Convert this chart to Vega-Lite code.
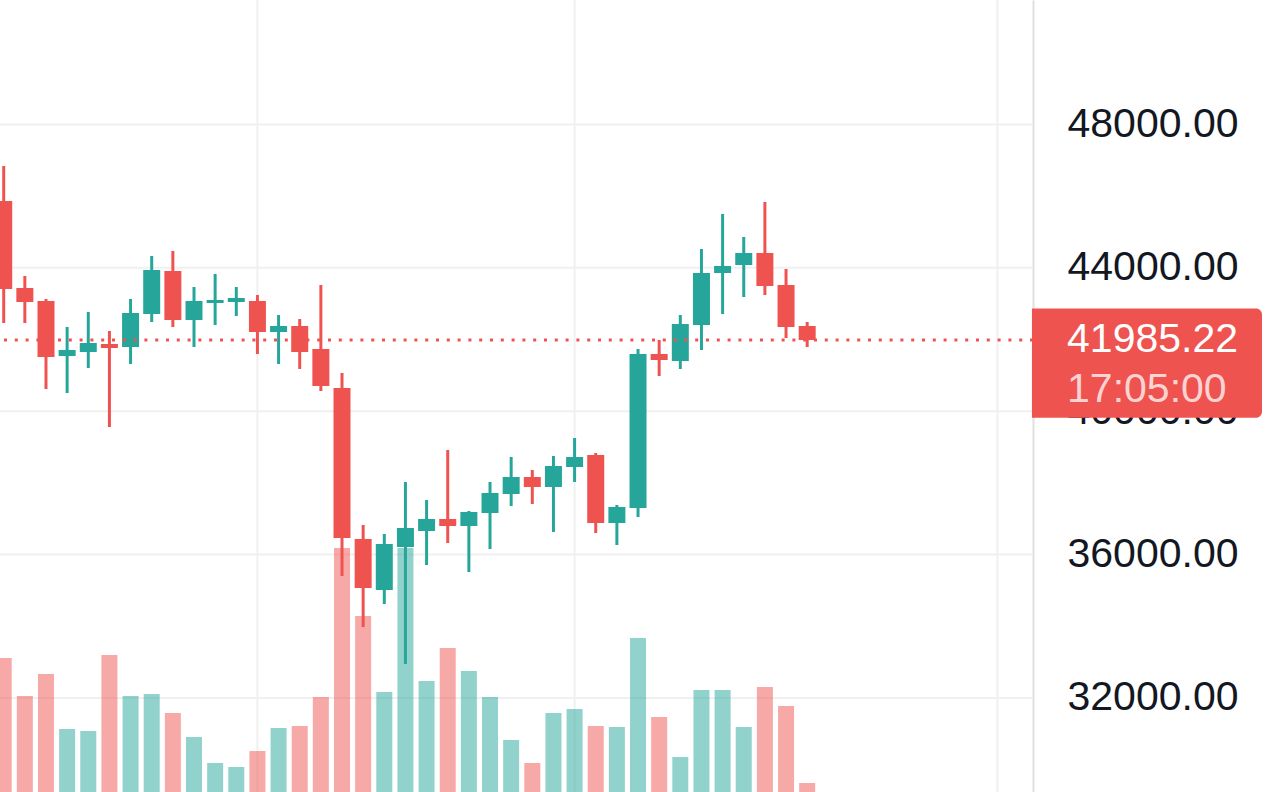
{
  "$schema": "https://vega.github.io/schema/vega-lite/v6.json",
  "width": 1033,
  "height": 792,
  "autosize": {"type": "none"},
  "padding": {"left": 0, "top": 0, "right": 247, "bottom": 0},
  "background": "white",
  "config": {"view": {"stroke": null}, "font": "Liberation Sans"},
  "datasets": {
    "candles": [
      {"i": 0, "o": 45865, "h": 46842, "l": 42462, "c": 43410, "v": 134, "d": "down"},
      {"i": 1, "o": 43438, "h": 43773, "l": 42462, "c": 43048, "v": 96, "d": "down"},
      {"i": 2, "o": 43075, "h": 43131, "l": 40620, "c": 41513, "v": 118, "d": "down"},
      {"i": 3, "o": 41541, "h": 42350, "l": 40509, "c": 41708, "v": 63, "d": "up"},
      {"i": 4, "o": 41653, "h": 42769, "l": 41206, "c": 41904, "v": 61, "d": "up"},
      {"i": 5, "o": 41876, "h": 42238, "l": 39560, "c": 41764, "v": 137, "d": "down"},
      {"i": 6, "o": 41792, "h": 43131, "l": 41318, "c": 42741, "v": 96, "d": "up"},
      {"i": 7, "o": 42713, "h": 44331, "l": 42490, "c": 43940, "v": 98, "d": "up"},
      {"i": 8, "o": 43912, "h": 44470, "l": 42350, "c": 42545, "v": 79, "d": "down"},
      {"i": 9, "o": 42545, "h": 43466, "l": 41792, "c": 43075, "v": 55, "d": "up"},
      {"i": 10, "o": 43020, "h": 43829, "l": 42406, "c": 43103, "v": 29, "d": "up"},
      {"i": 11, "o": 43048, "h": 43466, "l": 42657, "c": 43159, "v": 25, "d": "up"},
      {"i": 12, "o": 43075, "h": 43243, "l": 41597, "c": 42210, "v": 41, "d": "down"},
      {"i": 13, "o": 42210, "h": 42685, "l": 41318, "c": 42378, "v": 64, "d": "up"},
      {"i": 14, "o": 42378, "h": 42573, "l": 41178, "c": 41653, "v": 66, "d": "down"},
      {"i": 15, "o": 41736, "h": 43522, "l": 40564, "c": 40704, "v": 95, "d": "down"},
      {"i": 16, "o": 40648, "h": 41067, "l": 35403, "c": 36463, "v": 244, "d": "down"},
      {"i": 17, "o": 36436, "h": 36826, "l": 33980, "c": 35068, "v": 176, "d": "down"},
      {"i": 18, "o": 35013, "h": 36575, "l": 34622, "c": 36296, "v": 100, "d": "up"},
      {"i": 19, "o": 36212, "h": 38026, "l": 32948, "c": 36742, "v": 244, "d": "up"},
      {"i": 20, "o": 36659, "h": 37523, "l": 35710, "c": 36993, "v": 111, "d": "up"},
      {"i": 21, "o": 36993, "h": 38918, "l": 36324, "c": 36798, "v": 144, "d": "down"},
      {"i": 22, "o": 36798, "h": 37217, "l": 35515, "c": 37189, "v": 121, "d": "up"},
      {"i": 23, "o": 37161, "h": 38026, "l": 36156, "c": 37719, "v": 95, "d": "up"},
      {"i": 24, "o": 37691, "h": 38723, "l": 37356, "c": 38165, "v": 52, "d": "up"},
      {"i": 25, "o": 38165, "h": 38360, "l": 37412, "c": 37886, "v": 29, "d": "down"},
      {"i": 26, "o": 37886, "h": 38751, "l": 36631, "c": 38472, "v": 79, "d": "up"},
      {"i": 27, "o": 38444, "h": 39253, "l": 38026, "c": 38723, "v": 83, "d": "up"},
      {"i": 28, "o": 38779, "h": 38835, "l": 36603, "c": 36882, "v": 66, "d": "down"},
      {"i": 29, "o": 36882, "h": 37384, "l": 36268, "c": 37328, "v": 65, "d": "up"},
      {"i": 30, "o": 37300, "h": 41736, "l": 37049, "c": 41597, "v": 154, "d": "up"},
      {"i": 31, "o": 41597, "h": 41987, "l": 40983, "c": 41429, "v": 75, "d": "down"},
      {"i": 32, "o": 41402, "h": 42685, "l": 41178, "c": 42434, "v": 35, "d": "up"},
      {"i": 33, "o": 42406, "h": 44526, "l": 41708, "c": 43857, "v": 102, "d": "up"},
      {"i": 34, "o": 43857, "h": 45503, "l": 42713, "c": 44052, "v": 102, "d": "up"},
      {"i": 35, "o": 44080, "h": 44861, "l": 43187, "c": 44415, "v": 65, "d": "up"},
      {"i": 36, "o": 44415, "h": 45837, "l": 43243, "c": 43494, "v": 105, "d": "down"},
      {"i": 37, "o": 43522, "h": 43968, "l": 42043, "c": 42350, "v": 86, "d": "down"},
      {"i": 38, "o": 42378, "h": 42490, "l": 41792, "c": 41985.22, "v": 9, "d": "down"}
    ],
    "vgrid": [{"gx": 12}, {"gx": 27}, {"gx": 47}],
    "hgrid": [{"p": 32000}, {"p": 36000}, {"p": 40000}, {"p": 44000}, {"p": 48000}],
    "last": [{"price": 41985.22}],
    "box": [{"x1": 48.63, "x2": 59.51, "top": 42863, "bottom": 39819}],
    "priceLabel": [{"lx": 50.29, "ly": 41985.22, "txt": "41985.22"}],
    "timeLabel": [{"lx": 50.29, "ly": 40606, "txt": "17:05:00"}]
  },
  "resolve": {"scale": {"y": "independent"}},
  "layer": [
    {
      "data": {"name": "hgrid"},
      "mark": {"type": "rule", "color": "#f0f0f0", "strokeWidth": 2},
      "encoding": {
        "y": {
          "field": "p", "type": "quantitative",
          "scale": {"domain": [29377, 51473], "nice": false, "zero": false},
          "axis": {
            "orient": "right", "values": [32000, 36000, 40000, 44000, 48000], "format": ".2f", "title": null,
            "ticks": false, "labelPadding": 34, "labelFontSize": 41, "labelColor": "#131722",
            "labelFont": "Liberation Sans", "labelAlign": "left", "labelBaseline": "middle",
            "grid": false,
            "domain": true, "domainColor": "#e0e0e0", "domainWidth": 2,
            "labelOverlap": false, "labelBound": false, "labelFlush": false
          }
        }
      }
    },
    {
      "data": {"name": "vgrid"},
      "mark": {"type": "rule", "color": "#f0f0f0", "strokeWidth": 2},
      "encoding": {
        "x": {"field": "gx", "type": "quantitative", "scale": {"domain": [-0.175, 48.68], "nice": false, "zero": false, "padding": 0}, "axis": null}
      }
    },
    {
      "data": {"name": "candles"},
      "mark": {"type": "bar", "size": 16, "opacity": 0.5},
      "encoding": {
        "x": {"field": "i", "type": "quantitative", "scale": {"domain": [-0.175, 48.68], "nice": false, "zero": false, "padding": 0}, "axis": null},
        "y": {"field": "v", "type": "quantitative", "scale": {"domain": [0, 792], "nice": false}, "axis": null},
        "color": {"field": "d", "type": "nominal", "scale": {"domain": ["up", "down"], "range": ["#26a69a", "#ef5350"]}, "legend": null}
      }
    },
    {
      "data": {"name": "candles"},
      "mark": {"type": "rule", "strokeWidth": 3},
      "encoding": {
        "x": {"field": "i", "type": "quantitative", "scale": {"domain": [-0.175, 48.68], "nice": false, "zero": false, "padding": 0}, "axis": null},
        "y": {"field": "l", "type": "quantitative", "scale": {"domain": [29377, 51473], "nice": false, "zero": false}, "axis": null},
        "y2": {"field": "h"},
        "color": {"field": "d", "type": "nominal", "scale": {"domain": ["up", "down"], "range": ["#26a69a", "#ef5350"]}, "legend": null}
      }
    },
    {
      "data": {"name": "candles"},
      "mark": {"type": "bar", "size": 17},
      "encoding": {
        "x": {"field": "i", "type": "quantitative", "scale": {"domain": [-0.175, 48.68], "nice": false, "zero": false, "padding": 0}, "axis": null},
        "y": {"field": "o", "type": "quantitative", "scale": {"domain": [29377, 51473], "nice": false, "zero": false}, "axis": null},
        "y2": {"field": "c"},
        "color": {"field": "d", "type": "nominal", "scale": {"domain": ["up", "down"], "range": ["#26a69a", "#ef5350"]}, "legend": null}
      }
    },
    {
      "data": {"name": "last"},
      "mark": {"type": "rule", "color": "#ef5350", "strokeWidth": 3, "strokeDash": [3, 7.8]},
      "encoding": {
        "y": {"field": "price", "type": "quantitative", "scale": {"domain": [29377, 51473], "nice": false, "zero": false}, "axis": null}
      }
    },
    {
      "data": {"name": "box"},
      "mark": {"type": "rect", "color": "#ef5350", "clip": false, "cornerRadiusTopRight": 6, "cornerRadiusBottomRight": 6},
      "encoding": {
        "x": {"field": "x1", "type": "quantitative", "scale": {"domain": [-0.175, 48.68], "nice": false, "zero": false, "padding": 0}, "axis": null},
        "x2": {"field": "x2"},
        "y": {"field": "top", "type": "quantitative", "scale": {"domain": [29377, 51473], "nice": false, "zero": false}, "axis": null},
        "y2": {"field": "bottom"}
      }
    },
    {
      "data": {"name": "priceLabel"},
      "mark": {"type": "text", "align": "left", "baseline": "middle", "fontSize": 41, "font": "Liberation Sans", "color": "#ffffff", "clip": false},
      "encoding": {
        "x": {"field": "lx", "type": "quantitative", "scale": {"domain": [-0.175, 48.68], "nice": false, "zero": false, "padding": 0}, "axis": null},
        "y": {"field": "ly", "type": "quantitative", "scale": {"domain": [29377, 51473], "nice": false, "zero": false}, "axis": null},
        "text": {"field": "txt"}
      }
    },
    {
      "data": {"name": "timeLabel"},
      "mark": {"type": "text", "align": "left", "baseline": "middle", "fontSize": 41, "font": "Liberation Sans", "color": "#fcd3d2", "clip": false},
      "encoding": {
        "x": {"field": "lx", "type": "quantitative", "scale": {"domain": [-0.175, 48.68], "nice": false, "zero": false, "padding": 0}, "axis": null},
        "y": {"field": "ly", "type": "quantitative", "scale": {"domain": [29377, 51473], "nice": false, "zero": false}, "axis": null},
        "text": {"field": "txt"}
      }
    }
  ]
}
